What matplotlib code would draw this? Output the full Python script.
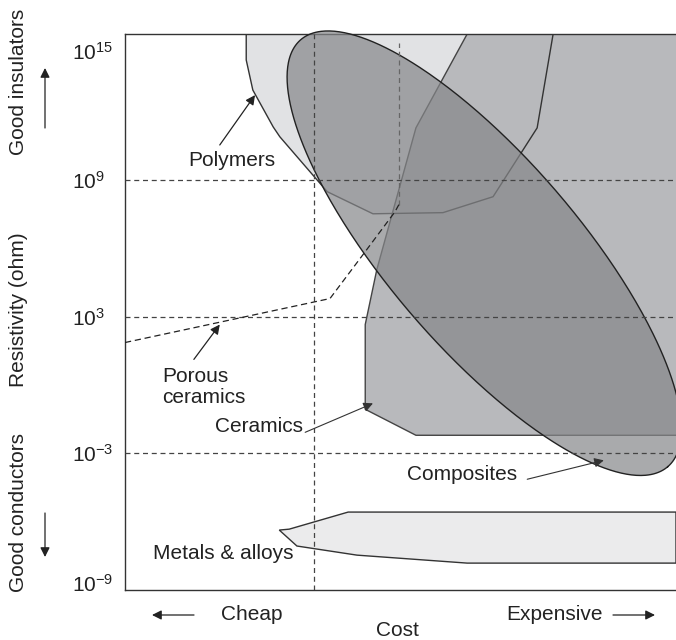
import numpy as np
import matplotlib
matplotlib.use("Agg")
import matplotlib.pyplot as plt
from matplotlib.patches import Polygon
from matplotlib.transforms import ScaledTranslation

plt.rcParams['font.family'] = ['Liberation Sans', 'DejaVu Sans']
plt.rcParams['mathtext.fontset'] = 'custom'
plt.rcParams['mathtext.rm'] = 'Liberation Sans'
plt.rcParams['mathtext.it'] = 'Liberation Sans:italic'
plt.rcParams['mathtext.bf'] = 'Liberation Sans:bold'

# Relative cost (0 = cheapest, 100 = most expensive) against log10 resistivity (ohm)
polymer_cost = [22.0, 22.0, 23.2, 26.9, 28.1, 36.7, 45.0, 57.7, 66.8, 74.8, 77.7]
polymer_logr = [15.4, 14.26, 12.94, 11.32, 10.89, 8.48, 7.51, 7.56, 8.26, 11.28, 15.4]

ceramic_cost = [62.1, 52.8, 45.7, 43.6, 43.6, 52.8, 100.0, 100.0]
ceramic_logr = [15.4, 11.28, 5.06, 2.65, -1.07, -2.21, -2.21, 15.4]

metal_cost = [28.0, 29.8, 40.5, 100.0, 100.0, 62.1, 42.1, 31.2]
metal_logr = [-6.37, -6.33, -5.58, -5.58, -7.82, -7.82, -7.47, -7.07]

porous_cost = [0.0, 37.2, 43.2, 49.0, 49.7]
porous_logr = [1.86, 3.79, 5.72, 7.60, 7.91]

# Composites: elliptical band given by centre and two conjugate semi-axes
composite_center = (65.2, 5.78)
composite_major = (33.3, -9.37)
composite_minor = (13.1, 2.71)

ref_logr = [9, 3, -3]
ref_cost = 34.3
ref2_cost = 49.7
ref2_logr = [7.91, 15.0]
tick_logr = [15, 9, 3, -3, -9]
tick_text = [r'$\mathregular{10^{15}}$', r'$\mathregular{10^{9}}$', r'$\mathregular{10^{3}}$',
             r'$\mathregular{10^{-3}}$', r'$\mathregular{10^{-9}}$']

W, H = 676, 640
fig = plt.figure(figsize=(W / 100, H / 100), dpi=100)
ax = fig.add_axes([125 / W, 50 / H, 551 / W, 556 / H])
ax.set_yscale('log')
ax.set_xlim(0, 100)
ax.set_ylim(1e-9, 10 ** 15.4)


def pts(c, lr):
    return np.column_stack([c, np.power(10.0, lr)])


poly_fill = Polygon(pts(polymer_cost, polymer_logr), closed=False, fc='#e1e2e4', ec='none', zorder=1)
cer_fill = Polygon(pts(ceramic_cost, ceramic_logr), closed=True, fc='#b8b9bc', ec='none', zorder=2)
met_fill = Polygon(pts(metal_cost, metal_logr), closed=True, fc='#ebebec', ec='#333333', lw=1.0, zorder=2)
for p in (poly_fill, cer_fill, met_fill):
    ax.add_patch(p)

# outlines of polymers / ceramics sit on top of both fills
ax.plot(polymer_cost, np.power(10.0, polymer_logr), color='#333333', lw=1.0, zorder=2.5)
ax.plot(ceramic_cost[:6] + [100.0], np.power(10.0, ceramic_logr[:6] + [-2.21]),
        color='#444444', lw=1.0, zorder=2.5)

t = np.linspace(0, 2 * np.pi, 500)
ec = composite_center[0] + composite_major[0] * np.cos(t) + composite_minor[0] * np.sin(t)
el = composite_center[1] + composite_major[1] * np.cos(t) + composite_minor[1] * np.sin(t)
ell = Polygon(pts(ec, el), closed=True, fc='#86878a', alpha=0.71, ec='none', zorder=3, clip_on=False)
ax.add_patch(ell)
ax.plot(ec, np.power(10.0, el), color='#222222', lw=1.0, zorder=3.5, clip_on=False)

# reference grid
for lr in ref_logr:
    ax.axhline(10.0 ** lr, color='#444444', lw=0.9, ls=(0, (4, 3)), zorder=4)
ax.axvline(ref_cost, color='#444444', lw=0.9, ls=(0, (4, 3)), zorder=4)
ax.plot([ref2_cost, ref2_cost], np.power(10.0, ref2_logr), color='#666666', lw=0.9,
        ls=(0, (4, 3)), zorder=4)
ax.plot(porous_cost, np.power(10.0, porous_logr), color='#222222', lw=0.9,
        ls=(0, (5, 3)), zorder=4)

ax.spines['right'].set_visible(False)
for s in ('left', 'bottom', 'top'):
    ax.spines[s].set_color('#333333')
    ax.spines[s].set_linewidth(1.0)
ax.set_xticks([])
ax.yaxis.set_minor_locator(matplotlib.ticker.NullLocator())
ax.set_yticks([10.0 ** v for v in tick_logr])
ax.set_yticklabels(tick_text)
ax.tick_params(axis='y', length=0, pad=38, labelsize=15, labelcolor='#222222')
labs = ax.get_yticklabels()
for lab in labs:
    lab.set_horizontalalignment('left')
labs[0].set_transform(labs[0].get_transform() + ScaledTranslation(0, -0.08, fig.dpi_scale_trans))
labs[-1].set_transform(labs[-1].get_transform() + ScaledTranslation(0, 0.07, fig.dpi_scale_trans))

txt = dict(fontsize=15, color='#222222')
arrow = dict(arrowstyle='-|>', color='#222222', lw=0.9, shrinkA=0, shrinkB=0, mutation_scale=14)
line_arrow = dict(arrowstyle='-|>', color='#333333', lw=0.8, shrinkA=0, shrinkB=0, mutation_scale=14)

ax.text(19.4, 10 ** 9.83, 'Polymers', ha='center', va='center', zorder=6, **txt)
ax.annotate('', xy=(23.6, 10 ** 12.72), xytext=(17.2, 10 ** 10.53), arrowprops=arrow, zorder=6)

ax.text(6.7, 10 ** -0.09, 'Porous\nceramics', ha='left', va='center', linespacing=1.15, zorder=6, **txt)
ax.annotate('', xy=(17.2, 10 ** 2.65), xytext=(12.5, 10 ** 1.12), arrowprops=arrow, zorder=6)

ax.text(32.3, 10 ** -1.82, 'Ceramics', ha='right', va='center', zorder=6, **txt)
ax.annotate('', xy=(45.0, 10 ** -0.81), xytext=(32.7, 10 ** -2.08), arrowprops=line_arrow, zorder=6)

ax.text(51.2, 10 ** -3.92, 'Composites', ha='left', va='center', zorder=6, **txt)
ax.annotate('', xy=(86.9, 10 ** -3.31), xytext=(73.0, 10 ** -4.14), arrowprops=line_arrow, zorder=6)

ax.text(5.1, 10 ** -7.42, 'Metals & alloys', ha='left', va='center', zorder=6, **txt)

# outer captions
fig.text(19 / W, 1 - 82 / H, 'Good insulators', rotation=90, ha='center', va='center', **txt)
fig.text(19 / W, 1 - 310 / H, 'Resistivity (ohm)', rotation=90, ha='center', va='center', **txt)
fig.text(19 / W, 1 - 512 / H, 'Good conductors', rotation=90, ha='center', va='center', **txt)
fig.text(252 / W, 1 - 614 / H, 'Cheap', ha='center', va='center', **txt)
fig.text(554 / W, 1 - 614 / H, 'Expensive', ha='center', va='center', **txt)
fig.text(397 / W, 1 - 630 / H, 'Cost', ha='center', va='center', **txt)


def fig_arrow(x0, y0, x1, y1):
    ax.annotate('', xy=(x1, H - y1), xytext=(x0, H - y0), xycoords='figure pixels',
                textcoords='figure pixels', arrowprops=arrow, annotation_clip=False)


fig_arrow(45, 128, 45, 68)
fig_arrow(45, 513, 45, 557)
fig_arrow(194, 615, 152, 615)
fig_arrow(613, 615, 655, 615)

fig.savefig('out.png', dpi=100)
